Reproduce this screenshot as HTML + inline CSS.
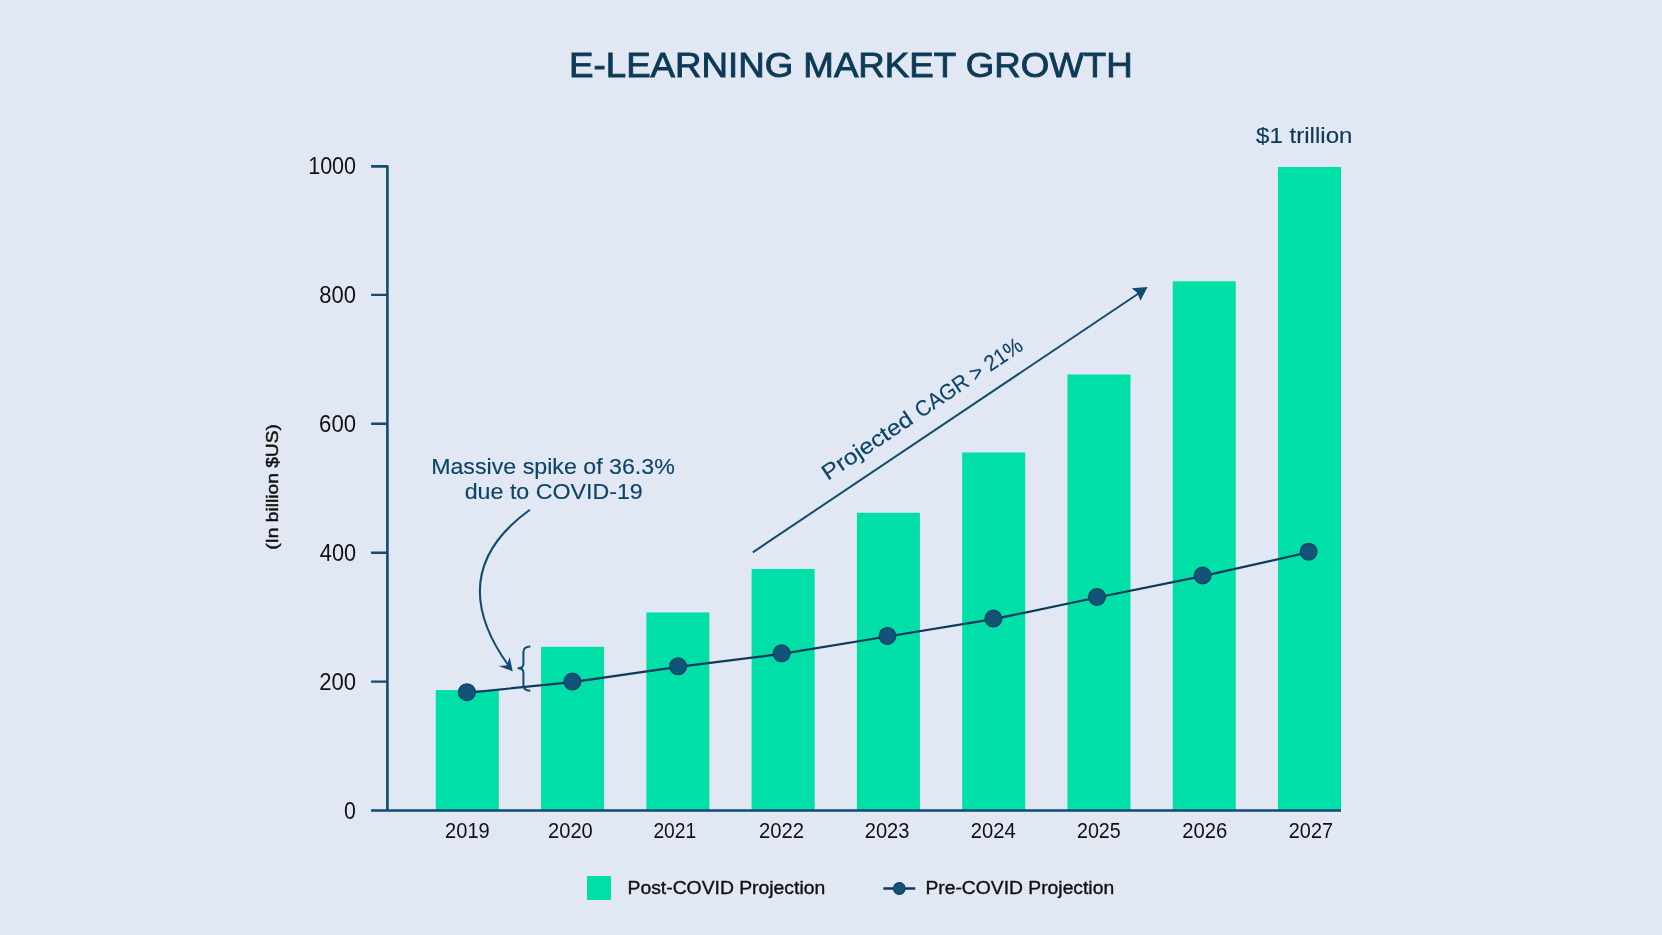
<!DOCTYPE html>
<html><head><meta charset="utf-8"><title>E-Learning Market Growth</title>
<style>
html,body{margin:0;padding:0;background:#E1E7F3;}
body{width:1662px;height:935px;overflow:hidden;}
svg{display:block;font-family:"Liberation Sans",sans-serif;will-change:transform;}
</style></head><body>
<svg width="1662" height="935" viewBox="0 0 1662 935">
<rect x="435.80" y="690" width="63" height="120.00" fill="#00DFA7"/>
<rect x="541.08" y="646.8" width="63" height="163.20" fill="#00DFA7"/>
<rect x="646.36" y="612.4" width="63" height="197.60" fill="#00DFA7"/>
<rect x="751.64" y="569" width="63" height="241.00" fill="#00DFA7"/>
<rect x="856.92" y="512.8" width="63" height="297.20" fill="#00DFA7"/>
<rect x="962.20" y="452.5" width="63" height="357.50" fill="#00DFA7"/>
<rect x="1067.48" y="374.5" width="63" height="435.50" fill="#00DFA7"/>
<rect x="1172.76" y="281.3" width="63" height="528.70" fill="#00DFA7"/>
<rect x="1278.04" y="167" width="63" height="643.00" fill="#00DFA7"/>
<path d="M371.1 166.4 H387.4 V810.5 M371.1 810.5 H1341" stroke="#0F4C6E" stroke-width="2.6" fill="none" stroke-linecap="butt" stroke-linejoin="round"/>
<path d="M371.1 294.9 H387.4 M371.1 423.8 H387.4 M371.1 552.7 H387.4 M371.1 681.6 H387.4" stroke="#0F4C6E" stroke-width="2.4" fill="none" stroke-linecap="butt"/>
<path d="M466.9 692.8 L572.4 682.2 L678.1 666.9 L781.6 653.9 L887.4 636.5 L993.4 619.2 L1097 597.5 L1202.6 576.1 L1308.6 552.3" stroke="#0B3A5A" stroke-width="2.2" fill="none" stroke-linejoin="round"/>
<circle cx="466.9" cy="692.2" r="8.4" fill="#125478" stroke="#0D3F66" stroke-width="1.2"/>
<circle cx="572.4" cy="681.6" r="8.4" fill="#125478" stroke="#0D3F66" stroke-width="1.2"/>
<circle cx="678.1" cy="666.3" r="8.4" fill="#125478" stroke="#0D3F66" stroke-width="1.2"/>
<circle cx="781.6" cy="653.3" r="8.4" fill="#125478" stroke="#0D3F66" stroke-width="1.2"/>
<circle cx="887.4" cy="635.9" r="8.4" fill="#125478" stroke="#0D3F66" stroke-width="1.2"/>
<circle cx="993.4" cy="618.6" r="8.4" fill="#125478" stroke="#0D3F66" stroke-width="1.2"/>
<circle cx="1097" cy="596.9" r="8.4" fill="#125478" stroke="#0D3F66" stroke-width="1.2"/>
<circle cx="1202.6" cy="575.5" r="8.4" fill="#125478" stroke="#0D3F66" stroke-width="1.2"/>
<circle cx="1308.6" cy="551.7" r="8.4" fill="#125478" stroke="#0D3F66" stroke-width="1.2"/>
<path d="M529.9 509.8 C459.7 560.4 473.9 617.4 508.5 665.5" stroke="#0F4C6E" stroke-width="2" fill="none"/>
<path d="M512.8 671.4 L498.6 666.1 L507 665.2 L509.6 656.9 Z" fill="#0F4C6E"/>
<path d="M530.4 646.4 C525 646.4 523.4 648.5 523.4 652 V664 C523.4 667 521 668.2 517.6 668.2 C521 668.2 523.4 669.4 523.4 672.4 V685 C523.4 688.5 525 690.7 530.4 690.7" stroke="#0F4C6E" stroke-width="2" fill="none"/>
<path d="M752.8 552.3 L1140 292.5" stroke="#0F4C6E" stroke-width="2" fill="none"/>
<path d="M1147.6 287 L1131.8 288.3 L1137.4 293 L1140.4 300.7 Z" fill="#0F4C6E"/>
<rect x="587" y="876" width="24" height="24" fill="#00DFA7"/>
<path d="M883.3 888.5 H915.2" stroke="#0B3A5A" stroke-width="2.3"/>
<circle cx="899.3" cy="888.5" r="5.9" fill="#125478" stroke="#0D3F66" stroke-width="1.1"/>
<text x="569.08" y="76.60" font-size="35" fill="#0C3A56" stroke="#0C3A56" stroke-width="0.9" textLength="563.55" lengthAdjust="spacingAndGlyphs">E-LEARNING MARKET GROWTH</text>
<text x="1256.13" y="143.40" font-size="22" fill="#0C3A56" stroke="#0C3A56" stroke-width="0.15" textLength="96.29" lengthAdjust="spacingAndGlyphs">$1 trillion</text>
<text x="431.15" y="474.20" font-size="22" fill="#0D4466" stroke="#0D4466" stroke-width="0.15" textLength="243.69" lengthAdjust="spacingAndGlyphs">Massive spike of 36.3%</text>
<text x="464.71" y="499.40" font-size="22" fill="#0D4466" stroke="#0D4466" stroke-width="0.15" textLength="178.05" lengthAdjust="spacingAndGlyphs">due to COVID-19</text>
<text x="627.53" y="893.90" font-size="17.6" fill="#111111" stroke="#111111" stroke-width="0.35" textLength="197.69" lengthAdjust="spacingAndGlyphs">Post-COVID Projection</text>
<text x="925.43" y="893.90" font-size="17.6" fill="#111111" stroke="#111111" stroke-width="0.35" textLength="188.70" lengthAdjust="spacingAndGlyphs">Pre-COVID Projection</text>
<text transform="translate(829.3 480) rotate(-33.85)" x="-1.98" y="0.00" font-size="22" fill="#0D4466" stroke="#0D4466" stroke-width="0.15" textLength="104.92" lengthAdjust="spacingAndGlyphs">Projected</text>
<text transform="translate(829.3 480) rotate(-33.85)" x="110.56" y="0.00" font-size="22" fill="#0D4466" stroke="#0D4466" stroke-width="0.15" textLength="124.57" lengthAdjust="spacingAndGlyphs">CAGR &gt; 21%</text>
<text transform="translate(278.3 487) rotate(-90)" x="-62.87" y="0.00" font-size="16.5" fill="#111111" stroke="#111111" stroke-width="0.45" textLength="125.71" lengthAdjust="spacingAndGlyphs">(In billion $US)</text>
<text x="308.16" y="174.20" font-size="23" fill="#111111" textLength="47.90" lengthAdjust="spacingAndGlyphs">1000</text>
<text x="319.34" y="303.10" font-size="23" fill="#111111" textLength="36.69" lengthAdjust="spacingAndGlyphs">800</text>
<text x="319.10" y="432.00" font-size="23" fill="#111111" textLength="36.95" lengthAdjust="spacingAndGlyphs">600</text>
<text x="319.83" y="560.90" font-size="23" fill="#111111" textLength="36.20" lengthAdjust="spacingAndGlyphs">400</text>
<text x="319.20" y="689.80" font-size="23" fill="#111111" textLength="36.84" lengthAdjust="spacingAndGlyphs">200</text>
<text x="344.07" y="818.70" font-size="23" fill="#111111" textLength="11.87" lengthAdjust="spacingAndGlyphs">0</text>
<text x="445.07" y="837.90" font-size="21.5" fill="#111111" textLength="44.65" lengthAdjust="spacingAndGlyphs">2019</text>
<text x="548.07" y="837.90" font-size="21.5" fill="#111111" textLength="44.72" lengthAdjust="spacingAndGlyphs">2020</text>
<text x="653.40" y="837.90" font-size="21.5" fill="#111111" textLength="42.88" lengthAdjust="spacingAndGlyphs">2021</text>
<text x="759.06" y="837.90" font-size="21.5" fill="#111111" textLength="45.07" lengthAdjust="spacingAndGlyphs">2022</text>
<text x="864.77" y="837.90" font-size="21.5" fill="#111111" textLength="44.72" lengthAdjust="spacingAndGlyphs">2023</text>
<text x="970.86" y="837.90" font-size="21.5" fill="#111111" textLength="44.79" lengthAdjust="spacingAndGlyphs">2024</text>
<text x="1076.98" y="837.90" font-size="21.5" fill="#111111" textLength="43.79" lengthAdjust="spacingAndGlyphs">2025</text>
<text x="1182.26" y="837.90" font-size="21.5" fill="#111111" textLength="45.04" lengthAdjust="spacingAndGlyphs">2026</text>
<text x="1288.83" y="837.90" font-size="21.5" fill="#111111" textLength="44.18" lengthAdjust="spacingAndGlyphs">2027</text>
</svg>
</body></html>
